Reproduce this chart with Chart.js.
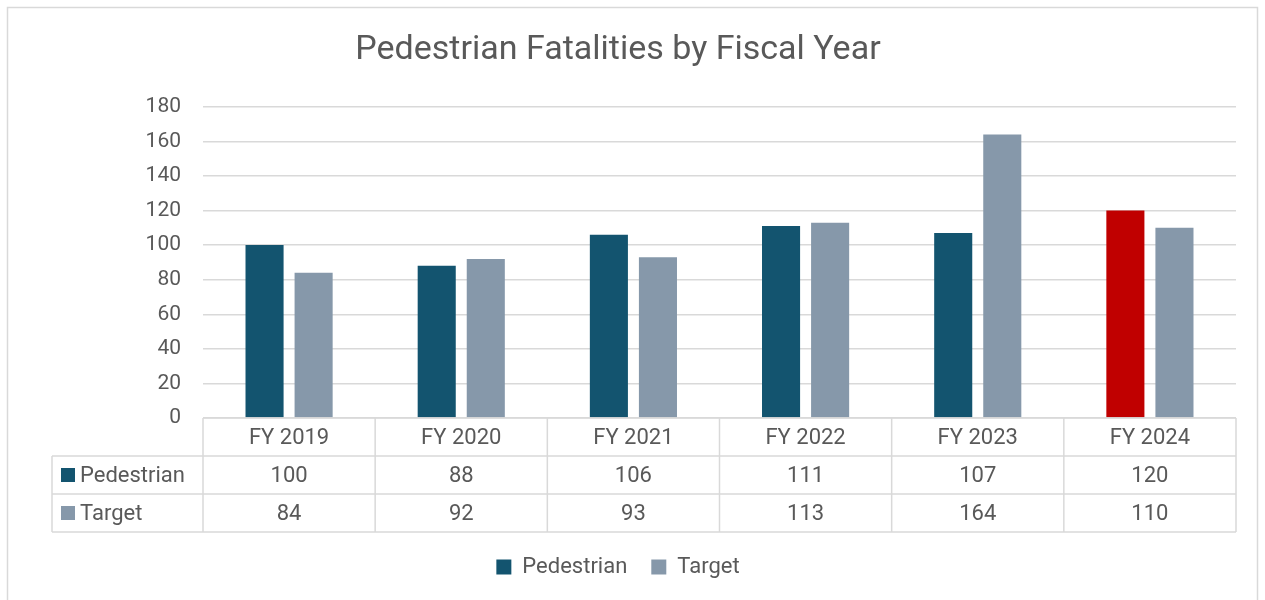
<!DOCTYPE html>
<html>
<head>
<meta charset="utf-8">
<script src="https://cdn.jsdelivr.net/npm/chart.js@4"></script>
<style>
  html, body { margin: 0; padding: 0; background: #fff; }
  #wrap { width: 1265px; height: 600px; position: relative; }
</style>
</head>
<body>
<div id="wrap"><canvas id="chart" width="1265" height="600"></canvas></div>
<script>
// data
const categories = ["FY 2019", "FY 2020", "FY 2021", "FY 2022", "FY 2023", "FY 2024"];
const pedestrian = [100, 88, 106, 111, 107, 120];
const target = [84, 92, 93, 113, 164, 110];
const seriesNames = ["Pedestrian", "Target"];
const highlightCategory = "FY 2024";
const yMin = 0;
const yMax = 180;
const yStep = 20;

const PED_COLOR = "#13546F";
const TARGET_COLOR = "#8698AA";
const HIGHLIGHT = "#C00000";
const TEXT = "#595959";
const LINE = "#D9D9D9";
const FONT = "Roboto, 'Open Sans', sans-serif";

const ROW_H = 38;
const LABEL_COL_LEFT = 52;

/* ---- frame around the whole chart ---- */
const framePlugin = {
  id: "frame",
  beforeDraw(chart) {
    const ctx = chart.ctx;
    ctx.save();
    ctx.fillStyle = "#fff";
    ctx.fillRect(0, 0, chart.width, chart.height);
    ctx.strokeStyle = LINE;
    ctx.lineWidth = 1.5;
    ctx.strokeRect(7.5, 7.5, chart.width - 15, chart.height + 20);
    ctx.restore();
  }
};

/* ---- data table under the plot ---- */
const tablePlugin = {
  id: "dataTable",
  afterDraw(chart) {
    const ctx = chart.ctx;
    const area = chart.chartArea;
    const n = categories.length;
    const colW = (area.right - area.left) / n;
    const top = area.bottom;
    const rows = [pedestrian, target];
    const swatches = [PED_COLOR, TARGET_COLOR];

    ctx.save();
    ctx.strokeStyle = LINE;
    ctx.lineWidth = 1.5;

    // horizontal lines
    ctx.beginPath();
    ctx.moveTo(area.left, top);
    ctx.lineTo(area.right, top);
    for (let r = 1; r <= rows.length + 1; r++) {
      const y = top + r * ROW_H;
      ctx.moveTo(LABEL_COL_LEFT, y);
      ctx.lineTo(area.right, y);
    }
    // vertical lines
    for (let c = 0; c <= n; c++) {
      const x = area.left + c * colW;
      ctx.moveTo(x, top);
      ctx.lineTo(x, top + (rows.length + 1) * ROW_H);
    }
    ctx.moveTo(LABEL_COL_LEFT, top + ROW_H);
    ctx.lineTo(LABEL_COL_LEFT, top + (rows.length + 1) * ROW_H);
    ctx.stroke();

    // text
    ctx.fillStyle = TEXT;
    ctx.font = "22px " + FONT;
    ctx.textAlign = "center";
    ctx.textBaseline = "middle";
    categories.forEach((cat, i) => {
      const cx = chart.scales.x.getPixelForValue(i);
      ctx.fillText(cat, cx, top + ROW_H / 2 + 1);
      rows.forEach((vals, r) => {
        ctx.fillText(String(vals[i]), cx, top + (r + 1) * ROW_H + ROW_H / 2 + 1);
      });
    });

    // row labels with swatches
    ctx.textAlign = "left";
    rows.forEach((vals, r) => {
      const cy = top + (r + 1) * ROW_H + ROW_H / 2;
      ctx.fillStyle = swatches[r];
      ctx.fillRect(61, cy - 7, 14, 14);
      ctx.fillStyle = TEXT;
      ctx.fillText(seriesNames[r], 80, cy + 1);
    });
    ctx.restore();
  }
};

const pedColors = categories.map(c => c === highlightCategory ? HIGHLIGHT : PED_COLOR);

new Chart(document.getElementById("chart").getContext("2d"), {
  type: "bar",
  data: {
    labels: categories,
    datasets: [
      {
        label: seriesNames[0],
        data: pedestrian,
        backgroundColor: pedColors,
        categoryPercentage: 0.57,
        barPercentage: 0.776
      },
      {
        label: seriesNames[1],
        data: target,
        backgroundColor: TARGET_COLOR,
        categoryPercentage: 0.57,
        barPercentage: 0.776
      }
    ]
  },
  options: {
    responsive: false,
    animation: false,
    layout: { padding: { left: 0, right: 29, top: 0, bottom: 12 } },
    plugins: {
      title: {
        display: true,
        text: "Pedestrian Fatalities by Fiscal Year",
        color: TEXT,
        font: { family: FONT, size: 34, weight: "normal" },
        padding: { top: 30, bottom: 36 }
      },
      legend: {
        position: "bottom",
        labels: {
          color: TEXT,
          font: { family: FONT, size: 22 },
          boxWidth: 15,
          boxHeight: 15,
          padding: 24
        }
      },
      tooltip: { enabled: false }
    },
    scales: {
      x: {
        grid: { display: false },
        border: { display: false },
        ticks: { display: false },
        afterFit(scale) { scale.height = ROW_H * 3; }
      },
      y: {
        min: yMin,
        max: yMax,
        ticks: {
          stepSize: yStep,
          color: TEXT,
          font: { family: FONT, size: 21 },
          padding: 22
        },
        grid: { color: LINE, lineWidth: 1.5, drawTicks: false },
        border: { display: false },
        afterFit(scale) { scale.width = 203; }
      }
    }
  },
  plugins: [framePlugin, tablePlugin]
});
</script>
</body>
</html>
